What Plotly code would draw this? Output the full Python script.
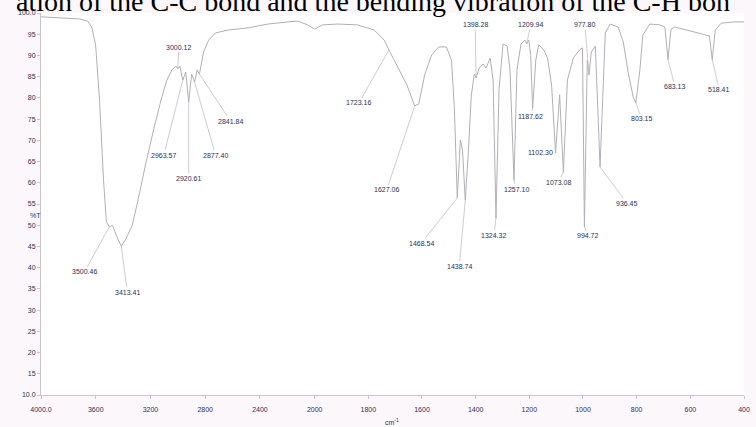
import plotly.graph_objects as go

# %T spectrum, 4000-2000 cm-1 section (drawn on a compressed scale)
wn_high = [4000, 3862, 3717, 3659, 3630, 3601, 3572, 3543, 3522, 3500.46, 3478, 3442,
           3413.41, 3384, 3333, 3283, 3232, 3174, 3123, 3080, 3043, 3015, 3000.12, 2986,
           2963.57, 2942, 2920.61, 2899, 2877.40, 2859, 2841.84, 2812, 2775, 2725, 2630,
           2486, 2341, 2196, 2123, 2051, 2000]
t_high = [99.1, 98.8, 98.6, 98.1, 96.7, 92.5, 79.5, 60.6, 50.8, 49.6, 50.0, 47.0,
          45.1, 46.5, 50.0, 57.1, 64.9, 72.9, 79.5, 84.2, 86.6, 87.5, 86.8, 87.5,
          84.2, 86.1, 79.0, 85.6, 83.7, 86.6, 85.6, 90.8, 93.6, 95.3, 96.0,
          96.5, 97.4, 97.9, 98.1, 97.2, 96.2]

# %T spectrum, 2000-400 cm-1 section
wn_low = [2000, 1970, 1915, 1841, 1778, 1741, 1723.16, 1701, 1656, 1627.06, 1612, 1590,
          1564, 1538, 1509, 1490, 1479, 1468.54, 1457, 1449, 1438.74, 1427, 1416, 1405,
          1398.28, 1387, 1372, 1361, 1346, 1335, 1324.32, 1313, 1298, 1283, 1272, 1257.10,
          1246, 1231, 1216, 1209.94, 1202, 1195, 1187.62, 1176, 1165, 1146, 1132, 1117,
          1102.30, 1087, 1073.08, 1058, 1036, 1013, 1002, 994.72, 984, 977.80, 969, 954,
          936.45, 917, 899, 869, 850, 832, 813, 803.15, 788, 777, 751, 714, 695, 683.13,
          672, 658, 611, 548, 529, 518.41, 507, 485, 437, 400]
t_low = [96.2, 97.2, 97.4, 97.2, 96.0, 93.6, 91.3, 88.5, 83.0, 78.1, 78.6, 85.4,
         90.1, 92.0, 92.0, 88.9, 77.1, 56.4, 70.1, 67.7, 55.9, 67.7, 80.7, 85.6,
         84.7, 87.0, 88.0, 87.0, 89.4, 84.2, 51.7, 81.9, 92.7, 92.2, 86.6, 60.6,
         86.6, 92.7, 93.6, 92.7, 93.6, 90.0, 77.6, 88.9, 92.5, 91.3, 89.4, 83.0,
         67.0, 80.7, 62.5, 84.2, 89.4, 91.3, 91.8, 49.6, 88.9, 85.4, 90.8, 92.2,
         63.7, 95.3, 97.4, 96.7, 93.2, 86.1, 80.2, 78.8, 86.6, 94.8, 97.4, 97.2, 96.7, 89.0,
         96.2, 96.7, 96.0, 95.0, 94.6, 89.0, 96.0, 97.6, 97.9, 97.9]

# Picked peak positions (cm-1)
peaks_high = [3500.46, 3413.41, 3000.12, 2963.57, 2920.61, 2877.40, 2841.84]
peaks_low = [1723.16, 1627.06, 1468.54, 1438.74, 1398.28, 1324.32, 1257.10, 1209.94,
             1187.62, 1102.30, 1073.08, 994.72, 977.80, 936.45, 803.15, 683.13, 518.41]

# Axis ticks
y_ticks = [10, 15, 20, 25, 30, 35, 40, 45, 50, 55, 60, 65, 70, 75, 80, 85, 90, 95, 100]
y_tick_text = ["10.0", "15", "20", "25", "30", "35", "40", "45", "50", "55", "60",
               "65", "70", "75", "80", "85", "90", "95", "100.0"]
x_ticks_high = [4000, 3600, 3200, 2800, 2400]
x_tick_text_high = ["4000.0", "3600", "3200", "2800", "2400"]
x_ticks_low = [2000, 1800, 1600, 1400, 1200, 1000, 800, 600, 400]
x_tick_text_low = ["2000", "1800", "1600", "1400", "1200", "1000", "800", "600", "400"]

# Label placement: pixel offset of each peak label from its peak
offsets_high = [(-25, 45), (6, 46), (1, -22), (-19, 75), (0, 76), (21, 73), (31, 47)]
offsets_low = [(-30, 53), (-28, 84), (-36, 45), (-6, 66), (-1, -53), (-2, 17), (2, 9),
               (4, -19), (-2, 8), (-15, -1), (-5, 10), (4, 9), (-4, -50), (27, 36),
               (6, 16), (7, 27), (7, 30)]

LINE = "#b2aeb6"
LEADER = "#c4bec7"
INK = "#2e2e58"
W, H = 756, 427
L, R, T, B = 41, 6, 13, 32
split = 276 / (W - L - R)

fig = go.Figure()
fig.add_trace(go.Scatter(x=wn_high, y=t_high, mode="lines", xaxis="x", yaxis="y",
                         line=dict(color=LINE, width=1), hoverinfo="skip"))
fig.add_trace(go.Scatter(x=wn_low, y=t_low, mode="lines", xaxis="x2", yaxis="y",
                         line=dict(color=LINE, width=1), hoverinfo="skip"))

label_font = dict(size=7, color=INK, family="Arial")
annotations = []
lookup_high = dict(zip(wn_high, t_high))
lookup_low = dict(zip(wn_low, t_low))
for wn, (ax, ay) in zip(peaks_high, offsets_high):
    annotations.append(dict(x=wn, y=lookup_high[wn], xref="x", yref="y",
                            text=f"{wn:.2f}", showarrow=True, arrowhead=0,
                            arrowwidth=0.8, arrowcolor=LEADER, ax=ax, ay=ay,
                            standoff=0, font=label_font))
for wn, (ax, ay) in zip(peaks_low, offsets_low):
    annotations.append(dict(x=wn, y=lookup_low[wn], xref="x2", yref="y",
                            text=f"{wn:.2f}", showarrow=True, arrowhead=0,
                            arrowwidth=0.8, arrowcolor=LEADER, ax=ax, ay=ay,
                            standoff=0, font=label_font))

plot_w = W - L - R
plot_h = H - T - B
# axis titles
annotations.append(dict(x=(28 - L) / plot_w, y=(H - B - 215) / plot_h, xref="paper",
                        yref="paper", text="%T", showarrow=False, font=label_font))
annotations.append(dict(x=(395 - L) / plot_w, y=(H - B - 428) / plot_h, xref="paper",
                        yref="paper", text="cm<sup>-1</sup>", showarrow=False,
                        font=label_font))
# running text line above the chart
annotations.append(dict(x=(14 - L) / plot_w, y=(H - B - 2) / plot_h, xref="paper",
                        yref="paper", xanchor="left", yanchor="middle",
                        text="ation of the C-C bond and the bending vibration of the C-H bon",
                        showarrow=False,
                        font=dict(size=28, color="#000000", family="Liberation Serif")))

axis_common = dict(showgrid=False, zeroline=False, showline=True, linecolor="#cbc3cc",
                   linewidth=1, ticks="outside", ticklen=3, tickcolor="#cbc3cc",
                   tickfont=dict(size=7, color=INK, family="Arial"))

fig.update_layout(
    width=W, height=H,
    margin=dict(l=L, r=R, t=T, b=B),
    paper_bgcolor="#fcf7fb",
    plot_bgcolor="#ffffff",
    showlegend=False,
    xaxis=dict(domain=[0, split], range=[4000, 2000], tickvals=x_ticks_high,
               ticktext=x_tick_text_high, anchor="y", ticklabelstandoff=5, **axis_common),
    xaxis2=dict(domain=[split, 1], range=[2000, 400], tickvals=x_ticks_low,
                ticktext=x_tick_text_low, anchor="y", ticklabelstandoff=5, **axis_common),
    yaxis=dict(range=[10, 100], tickvals=y_ticks, ticktext=y_tick_text, anchor="x",
               **axis_common),
    annotations=annotations,
)

fig.write_html("out.html")
